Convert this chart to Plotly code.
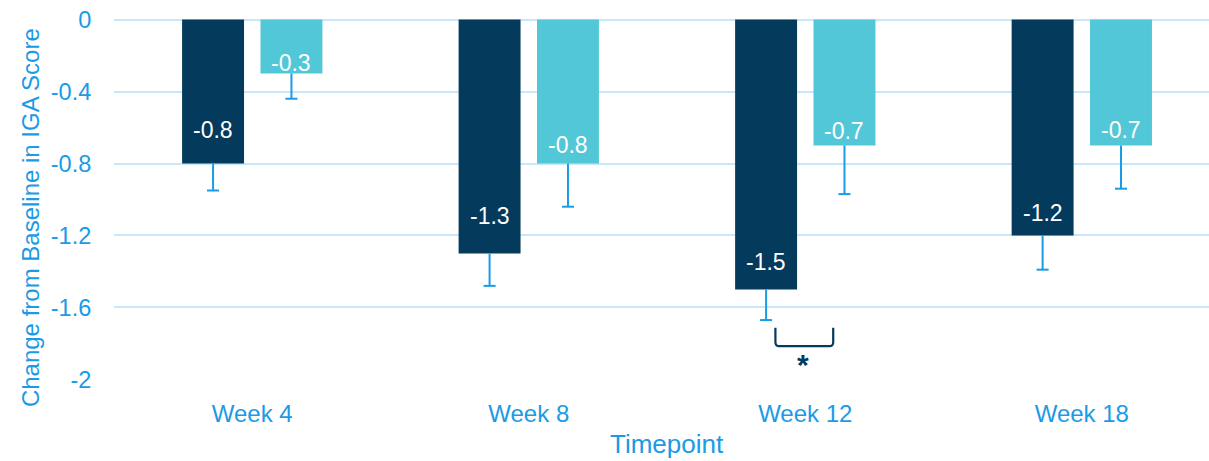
import plotly.graph_objects as go

# ---- data ----
categories = ["Week 4", "Week 8", "Week 12", "Week 18"]
dark_values = [-0.8, -1.3, -1.5, -1.2]
light_values = [-0.3, -0.8, -0.7, -0.7]
dark_err = [0.15, 0.18, 0.17, 0.19]
light_err = [0.14, 0.24, 0.27, 0.24]
dark_labels = ["-0.8", "-1.3", "-1.5", "-1.2"]
light_labels = ["-0.3", "-0.8", "-0.7", "-0.7"]
y_ticks = [0, -0.4, -0.8, -1.2, -1.6, -2]
y_tick_text = ["0", "-0.4", "-0.8", "-1.2", "-1.6", "-2"]

# ---- style / layout ----
DARK = "#043a5c"
LIGHT = "#52c7d8"
BLUE = "#1b9ae5"
ERR = "#1a9be6"
GRID = "#c9e7fa"
FONT = "Liberation Sans"
BAR_W = 0.224
OFF = 0.14175
dark_label_shift = [34, 37, 27, 22]
light_label_shift = [11, 19, 15, 16]

idx = list(range(len(categories)))
dark_x = [i - OFF for i in idx]
light_x = [i + OFF for i in idx]

fig = go.Figure()
for xs, vals, errs, col in [(dark_x, dark_values, dark_err, DARK),
                            (light_x, light_values, light_err, LIGHT)]:
    fig.add_trace(go.Bar(
        x=xs, y=vals, width=BAR_W, marker=dict(color=col, line=dict(width=0)),
        error_y=dict(type="data", symmetric=False, array=[0] * len(vals),
                     arrayminus=errs, color=ERR, thickness=2, width=0),
        showlegend=False, hoverinfo="skip"))
    fig.add_trace(go.Scatter(
        x=xs, y=[v - e for v, e in zip(vals, errs)], mode="markers",
        marker=dict(symbol="line-ew", size=8.6, line=dict(color=ERR, width=2)),
        showlegend=False, hoverinfo="skip"))

annotations = []
for xs, vals, labs, shifts in [(dark_x, dark_values, dark_labels, dark_label_shift),
                               (light_x, light_values, light_labels, light_label_shift)]:
    for x, v, t, s in zip(xs, vals, labs, shifts):
        annotations.append(dict(x=x, y=v, xref="x", yref="y", text=t, showarrow=False,
                                yshift=s, font=dict(family=FONT, size=23, color="white")))

# significance bracket
x0, x1 = 1.892, 2.101
yt, yb = -1.712, -1.815
rx, ry = 0.014, 0.022
path = (f"M {x0},{yt} L {x0},{yb + ry} Q {x0},{yb} {x0 + rx},{yb} "
        f"L {x1 - rx},{yb} Q {x1},{yb} {x1},{yb + ry} L {x1},{yt}")
fig.add_shape(type="path", path=path, xref="x", yref="y",
              line=dict(color=DARK, width=2.2))
annotations.append(dict(x=1.993, y=-1.919, xref="x", yref="y", text="<b>*</b>", showarrow=False,
                        font=dict(family=FONT, size=30, color=DARK)))

annotations.append(dict(x=-0.0762, y=0.45, xref="paper", yref="paper",
                        xanchor="center", yanchor="middle",
                        text="Change from Baseline in IGA Score", textangle=-90,
                        showarrow=False, font=dict(family=FONT, size=24, color=BLUE)))
annotations.append(dict(x=0.505, y=-0.176, xref="paper", yref="paper",
                        xanchor="center", yanchor="middle",
                        text="Timepoint", showarrow=False,
                        font=dict(family=FONT, size=26, color=BLUE)))

fig.update_layout(
    width=1209, height=461,
    margin=dict(l=113.5, r=0, t=19, b=81, pad=0),
    plot_bgcolor="white", paper_bgcolor="white",
    annotations=annotations,
    xaxis=dict(range=[-0.5, 3.46], tickvals=idx, ticktext=categories,
               showgrid=False, zeroline=False, showline=False,
               ticks="outside", ticklen=12, tickcolor="rgba(0,0,0,0)",
               tickfont=dict(family=FONT, size=24, color=BLUE)),
    yaxis=dict(range=[-2.003, 0.003], tickvals=y_ticks, ticktext=y_tick_text,
               showgrid=True, gridcolor=GRID, gridwidth=2,
               zeroline=True, zerolinecolor=GRID, zerolinewidth=2, showline=False,
               ticks="outside", ticklen=17, tickcolor="rgba(0,0,0,0)",
               tickfont=dict(family=FONT, size=23.5, color=BLUE)),
)

fig.write_html("out.html")
